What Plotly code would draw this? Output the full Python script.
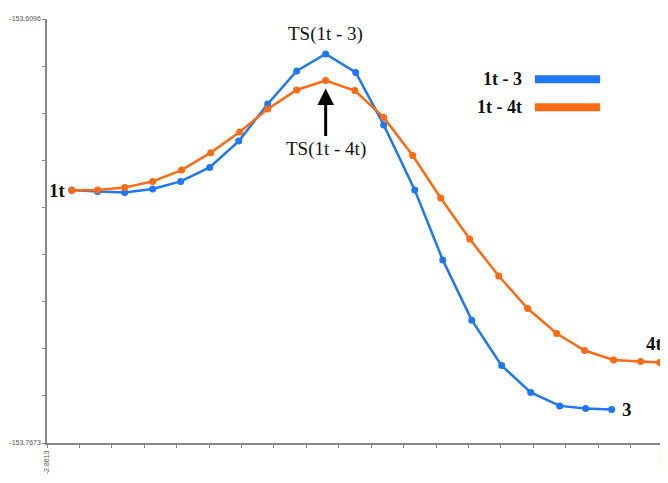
import numpy as np
import plotly.graph_objects as go

# ---- data ----
X_MIN, X_MAX = -2.8613, 3.4527
Y_MIN, Y_MAX = -153.7673, -153.6096

blue_name = "1t - 3"
blue_x = [-2.608, -2.342, -2.065, -1.778, -1.491, -1.194, -0.896, -0.599, -0.302, -0.005,
          0.303, 0.590, 0.908, 1.195, 1.492, 1.799, 2.097, 2.394, 2.660, 2.927]
blue_y = [-153.6732, -153.6738, -153.6741, -153.6728, -153.6700, -153.6648, -153.6550,
          -153.6412, -153.6289, -153.6226, -153.6295, -153.6490, -153.6732, -153.6992,
          -153.7216, -153.7385, -153.7485, -153.7535, -153.7545, -153.7548]

orange_name = "1t - 4t"
orange_x = [-2.608, -2.342, -2.065, -1.778, -1.481, -1.183, -0.886, -0.599, -0.302, -0.005,
            0.293, 0.590, 0.887, 1.174, 1.471, 1.769, 2.066, 2.363, 2.650, 2.947, 3.224, 3.419]
orange_y = [-153.6734, -153.6732, -153.6723, -153.6700, -153.6658, -153.6593, -153.6516,
            -153.6431, -153.6360, -153.6325, -153.6362, -153.6462, -153.6604, -153.6762,
            -153.6914, -153.7052, -153.7173, -153.7266, -153.7329, -153.7364, -153.7370,
            -153.7374]

x_tick_labels = ["-2.8613", "3.4527"]
y_tick_labels = ["-153.7673", "-153.6096"]

BLUE = "#1f78f2"
ORANGE = "#ff6a14"
SERIF = "Liberation Serif, DejaVu Serif, serif"
LABEL_FONT = dict(family=SERIF, size=19, color="#111111")

n_xt, n_yt = 20, 10
xt = list(np.linspace(X_MIN, X_MAX, n_xt))
yt = list(np.linspace(Y_MIN, Y_MAX, n_yt))
xtt = [x_tick_labels[0]] + [""] * (n_xt - 2) + [x_tick_labels[1]]
ytt = [y_tick_labels[0]] + [""] * (n_yt - 2) + [y_tick_labels[1]]

fig = go.Figure()
fig.add_trace(go.Scatter(x=blue_x, y=blue_y, mode="lines+markers", name=blue_name,
                         line=dict(color=BLUE, width=2.5), marker=dict(color=BLUE, size=7)))
fig.add_trace(go.Scatter(x=orange_x, y=orange_y, mode="lines+markers", name=orange_name,
                         line=dict(color=ORANGE, width=2.5), marker=dict(color=ORANGE, size=7)))

ann = []
# point labels
ann.append(dict(x=blue_x[0], y=blue_y[0], text="<b>1t</b>", showarrow=False,
                xanchor="right", xshift=-4, font=LABEL_FONT))
ann.append(dict(x=blue_x[-1], y=blue_y[-1], text="<b>3</b>", showarrow=False,
                xanchor="left", xshift=8, font=LABEL_FONT))
ann.append(dict(x=orange_x[-1], y=orange_y[-1], text="<b>4t</b>", showarrow=False,
                xanchor="center", yanchor="bottom", xshift=-5, yshift=7, font=LABEL_FONT))
ib = int(np.argmax(blue_y))
ann.append(dict(x=blue_x[ib], y=blue_y[ib], text="TS(1t - 3)", showarrow=False,
                yanchor="bottom", yshift=7, font=LABEL_FONT))
io = int(np.argmax(orange_y))
ann.append(dict(x=orange_x[io], y=orange_y[io], text="TS(1t - 4t)", showarrow=True,
                ax=0, ay=68, arrowhead=2, arrowsize=1.1, arrowwidth=3, arrowcolor="#000000",
                standoff=8, font=LABEL_FONT))
# legend (text then line)
LEG_Y = [0.858, 0.792]
for nm, yy in [(blue_name, LEG_Y[0]), (orange_name, LEG_Y[1])]:
    ann.append(dict(xref="paper", yref="paper", x=0.775, y=yy, text="<b>" + nm + "</b>",
                    showarrow=False, xanchor="right", yanchor="middle",
                    font=dict(family=SERIF, size=18, color="#111111")))

shapes = []
for col, yy in [(BLUE, LEG_Y[0]), (ORANGE, LEG_Y[1])]:
    shapes.append(dict(type="line", xref="paper", yref="paper", x0=0.792, x1=0.898,
                       y0=yy, y1=yy, line=dict(color=col, width=8)))

fig.update_layout(
    width=660, height=475,
    margin=dict(l=39, r=5, t=11, b=40),
    paper_bgcolor="white", plot_bgcolor="white",
    showlegend=False,
    annotations=ann, shapes=shapes,
    xaxis=dict(range=[X_MIN, X_MAX], tickmode="array", tickvals=xt, ticktext=xtt,
               tickangle=-90, ticks="outside", ticklen=3, tickcolor="#888888",
               showline=True, linecolor="#888888", linewidth=1.5, showgrid=False,
               automargin=False,
               zeroline=False, tickfont=dict(family="Liberation Sans, Arial", size=7, color="#555555")),
    yaxis=dict(range=[Y_MIN, Y_MAX], tickmode="array", tickvals=yt, ticktext=ytt,
               ticks="outside", ticklen=3, tickcolor="#888888",
               showline=True, linecolor="#888888", linewidth=1.5, showgrid=False,
               automargin=False,
               zeroline=False, tickfont=dict(family="Liberation Sans, Arial", size=7, color="#555555")),
)

fig.write_html("out.html")
